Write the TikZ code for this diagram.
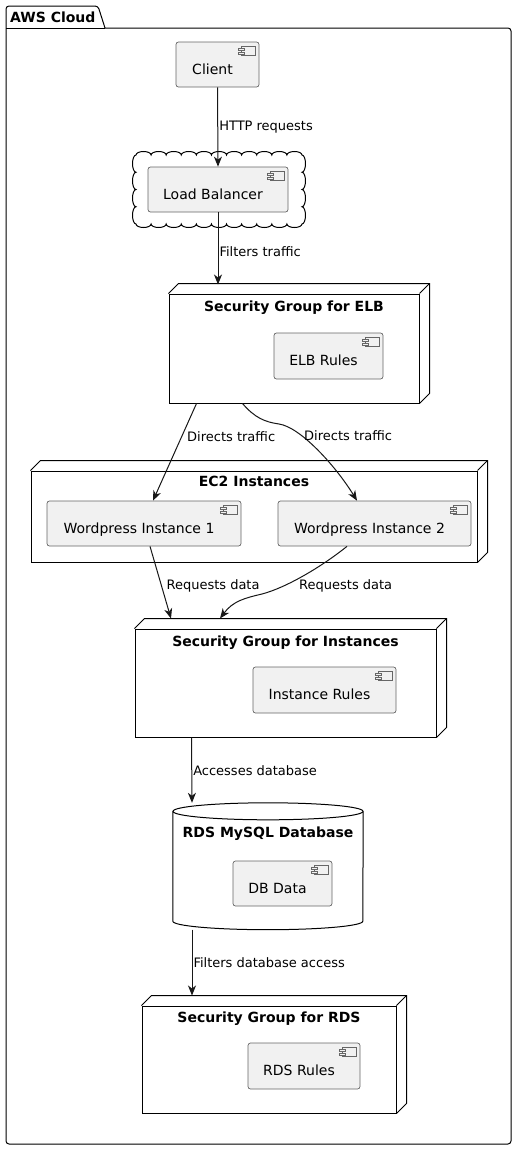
\documentclass[tikz,border=0pt]{standalone}
\usepackage{fontspec}
\setmainfont{DejaVu Sans}
\usetikzlibrary{arrows.meta}
\definecolor{compfill}{HTML}{F1F1F1}
\definecolor{lineclr}{HTML}{181818}
\newcommand\compicon[1]{%
\draw[icon] ([shift={(-18,5)}]#1.north east) rectangle ([shift={(-4,14)}]#1.north east);
\draw[icon] ([shift={(-21,7)}]#1.north east) rectangle ([shift={(-15,9)}]#1.north east);
\draw[icon] ([shift={(-21,10.5)}]#1.north east) rectangle ([shift={(-15,12.5)}]#1.north east);}
\newcommand\nodedepth[1]{%
\draw[edge3d] (#1.north west) -- ([shift={(10,-10)}]#1.north west) -- ([shift={(10,-10)}]#1.north east) -- ([shift={(10,-10)}]#1.south east) -- (#1.south east);
\draw[edge3d] (#1.north east) -- ([shift={(10,-10)}]#1.north east);}
\begin{document}
\begin{tikzpicture}[x=1pt, y=-1pt,
comp/.style={draw=black!60, line width=0.7pt, fill=compfill, rounded corners=2.5pt, font=\fontsize{14}{16}\selectfont, text height=19pt, text depth=0pt, inner sep=0pt, execute at end node={\hspace*{10pt}}},
grp/.style={draw=black, line width=1pt, fill=white},
edge3d/.style={draw=black, line width=1pt},
title/.style={font=\fontsize{14}{16}\selectfont\bfseries},
icon/.style={draw=black!60, line width=0.6pt, fill=compfill},
lbl/.style={font=\fontsize{13}{15}\selectfont, inner sep=1pt},
arr/.style={draw=lineclr, line width=1pt, -{Stealth[length=10pt,width=8pt,inset=3pt]}}]
\useasboundingbox (0,0) rectangle (517,1151);
\draw[grp, rounded corners=3pt] (105,28) -- (511,28) -- (511,1144) -- (6,1144) -- (6,6) -- (98,6) -- (105,28);
\draw[edge3d] (6,28) -- (105,28);
\node[title, anchor=west, inner sep=0pt] (awstitle) at (10,17) {AWS Cloud};

\node[comp, minimum width=83pt, minimum height=45pt] (client) at (217.5,64.5) {Client};
\compicon{client}
\draw[grp] (136,155) \foreach \i in {1,...,11}{arc[start angle=180, end angle=360, x radius=7.545, y radius=3.5]}
\foreach \i in {1,...,4}{arc[start angle=270, end angle=450, x radius=3.5, y radius=8.625]}
\foreach \i in {1,...,11}{arc[start angle=0, end angle=180, x radius=7.545, y radius=3.5]}
\foreach \i in {1,...,4}{arc[start angle=90, end angle=270, x radius=3.5, y radius=8.625]} -- cycle;
\node[comp, minimum width=140pt, minimum height=45pt] (lb) at (218,189.5) {Load Balancer};
\compicon{lb}

\node[grp, minimum width=250pt, minimum height=109pt, label={[title, below=4pt]north:Security Group for ELB}] (sgelb) at (294,348.5) {};
\nodedepth{sgelb}
\node[comp, minimum width=109pt, minimum height=46pt] (elbrules) at (328.5,356) {ELB Rules};
\compicon{elbrules}

\node[grp, minimum width=446pt, minimum height=91pt, label={[title, below=2pt]north:EC2 Instances}] (ec2) at (254,516.5) {};
\nodedepth{ec2}
\node[comp, minimum width=194pt, minimum height=45pt] (wp1) at (144,523.5) {Wordpress Instance 1};
\compicon{wp1}
\node[comp, minimum width=193pt, minimum height=45pt] (wp2) at (374.5,523.5) {Wordpress Instance 2};
\compicon{wp2}

\node[grp, minimum width=301pt, minimum height=108pt, label={[title, below=3.5pt]north:Security Group for Instances}] (sginst) at (285.5,683) {};
\nodedepth{sginst}
\node[comp, minimum width=143pt, minimum height=46pt] (instrules) at (324.5,690) {Instance Rules};
\compicon{instrules}

\node[inner sep=0pt, minimum width=190pt, minimum height=109.5pt] (rds) at (268,866.25) {};
\draw[grp] (rds.north west) -- (rds.south west) arc[start angle=180, end angle=0, x radius=95, y radius=8.5] -- (rds.north east);
\draw[grp] (rds.north) ellipse[x radius=95, y radius=8.5];
\node[title, below=12pt] (rdstitle) at (rds.north) {RDS MySQL Database};
\node[comp, minimum width=99pt, minimum height=45pt] (dbdata) at (282.5,883.5) {DB Data};
\compicon{dbdata}

\node[grp, minimum width=254pt, minimum height=107pt, label={[title, below=3pt]north:Security Group for RDS}] (sgrds) at (269,1059.5) {};
\nodedepth{sgrds}
\node[comp, minimum width=112pt, minimum height=46pt] (rdsrules) at (304,1066) {RDS Rules};
\compicon{rdsrules}

\draw[arr](client.south) -- node[lbl, right] {HTTP requests} (lb.north);
\draw[arr](lb.south) -- node[lbl, pos=0.55, right] {Filters traffic} ([yshift=9pt]lb.south |- sgelb.north);
\draw[arr]([xshift=28pt]sgelb.south west) -- node[lbl, pos=0.34, right=4pt] {Directs traffic} ([xshift=9pt]wp1.north);
\draw[arr]([xshift=74pt]sgelb.south west) .. controls (255,418) and (265,422) .. (279,424) .. controls (300,427) and (335,465) .. ([xshift=-17.5pt]wp2.north);
\node[lbl, anchor=west] (lbldir2) at (303,436) {Directs traffic};
\draw[arr]([xshift=6pt]wp1.south) -- node[lbl, pos=0.55, right=3.5pt] {Requests data} ([xshift=-114.5pt,yshift=10pt]sginst.north);
\draw[arr]([xshift=-27.5pt]wp2.south) .. controls (320,568) and (285,588) .. (262,594) .. controls (245,598) and (233,601) .. ([xshift=-65.5pt,yshift=10pt]sginst.north);
\node[lbl, anchor=west] (lblreq2) at (298,586) {Requests data};
\draw[arr]([xshift=57pt]sginst.south west) -- node[lbl, right] {Accesses database} ([xshift=-76pt,yshift=8.5pt]rds.north);
\draw[arr]([xshift=-76pt,yshift=-8.5pt]rds.south) -- node[lbl, right] {Filters database access} ([xshift=-77pt,yshift=10pt]sgrds.north);
\end{tikzpicture}
\end{document}
